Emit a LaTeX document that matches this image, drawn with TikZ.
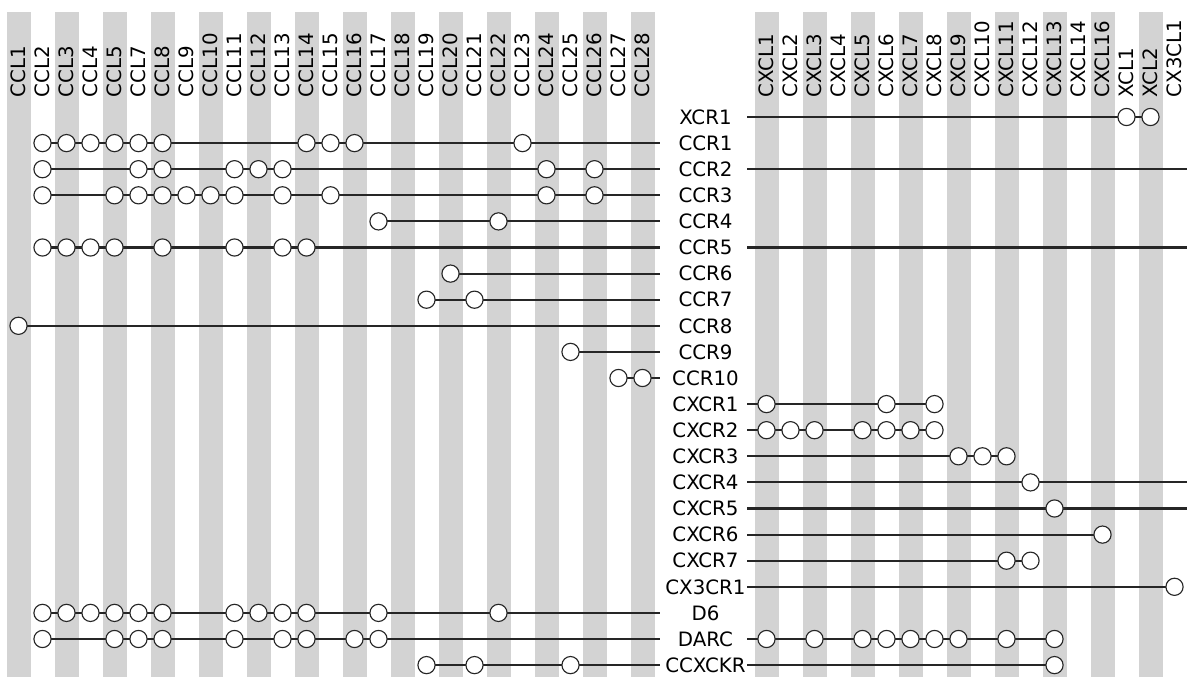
\documentclass[tikz,border=0pt]{standalone}
\usepackage{fontspec}
\setmainfont{DejaVu Sans}
\definecolor{stripe}{RGB}{211,211,211}
\definecolor{ink}{RGB}{38,38,38}
\pgfdeclarelayer{stripes}
\pgfdeclarelayer{wires}
\pgfsetlayers{stripes,wires,main}
\newcommand\ligL[2]{\foreach \i in {#2} \node[lig] (l#1-\i) at ({18.5+24*\i},{117+26.1*#1}) {};}
\newcommand\ligR[2]{\foreach \j in {#2} \node[lig] (r#1-\j) at ({766.5+24*\j},{117+26.1*#1}) {};}
\begin{document}
\begin{tikzpicture}[x=0.75pt,y=-0.75pt,
  font=\fontsize{14.85}{17}\selectfont,
  lig/.style={circle,draw=ink,fill=white,line width=0.85pt,minimum size=12.9pt,inner sep=0pt},
  wire/.style={draw=ink,line width=1.55pt},
  rlab/.style={inner sep=0pt,text=black},
  clab/.style={inner sep=0pt,anchor=west,rotate=90,text=black},
  band/.style={fill=stripe}]
\useasboundingbox (0,0) rectangle (1187,677);
% stripes
\begin{pgfonlayer}{stripes}
\foreach \i in {0,2,...,26} \fill[band] ({18.5+24*\i-12},12) rectangle ({18.5+24*\i+12},677);
\foreach \j in {0,2,...,16} \fill[band] ({766.5+24*\j-12},12) rectangle ({766.5+24*\j+12},677);
\end{pgfonlayer}
% column labels
\foreach \i/\t in {0/CCL1,1/CCL2,2/CCL3,3/CCL4,4/CCL5,5/CCL7,6/CCL8,7/CCL9,8/CCL10,9/CCL11,10/CCL12,11/CCL13,12/CCL14,13/CCL15,14/CCL16,15/CCL17,16/CCL18,17/CCL19,18/CCL20,19/CCL21,20/CCL22,21/CCL23,22/CCL24,23/CCL25,24/CCL26,25/CCL27,26/CCL28}
  \node[clab] (lc\i) at ({18.5+24*\i},97.5) {\t};
\foreach \j/\t in {0/CXCL1,1/CXCL2,2/CXCL3,3/CXCL4,4/CXCL5,5/CXCL6,6/CXCL7,7/CXCL8,8/CXCL9,9/CXCL10,10/CXCL11,11/CXCL12,12/CXCL13,13/CXCL14,14/CXCL16,15/XCL1,16/XCL2,17/CX3CL1}
  \node[clab] (rc\j) at ({766.5+24*\j},97.5) {\t};
% row labels and line end points
\foreach \k/\t in {0/XCR1,1/CCR1,2/CCR2,3/CCR3,4/CCR4,5/CCR5,6/CCR6,7/CCR7,8/CCR8,9/CCR9,10/CCR10,11/CXCR1,12/CXCR2,13/CXCR3,14/CXCR4,15/CXCR5,16/CXCR6,17/CXCR7,18/CX3CR1,19/D6,20/DARC,21/CCXCKR}{
  \node[rlab] (row\k) at (705.5,{117+26.1*\k}) {\t};
  \coordinate (le\k) at (660,{117+26.1*\k});
  \coordinate (rs\k) at (747,{117+26.1*\k});
  \coordinate (re\k) at (1187,{117+26.1*\k});
}
% circles
\ligR{0}{15,16}
\ligL{1}{1,2,3,4,5,6,12,13,14,21}
\ligL{2}{1,5,6,9,10,11,22,24}
\ligL{3}{1,4,5,6,7,8,9,11,13,22,24}
\ligL{4}{15,20}
\ligL{5}{1,2,3,4,6,9,11,12}
\ligL{6}{18}
\ligL{7}{17,19}
\ligL{8}{0}
\ligL{9}{23}
\ligL{10}{25,26}
\ligR{11}{0,5,7}
\ligR{12}{0,1,2,4,5,6,7}
\ligR{13}{8,9,10}
\ligR{14}{11}
\ligR{15}{12}
\ligR{16}{14}
\ligR{17}{10,11}
\ligR{18}{17}
\ligL{19}{1,2,3,4,5,6,9,10,11,12,15,20}
\ligL{20}{1,4,5,6,9,11,12,14,15}
\ligR{20}{0,2,4,5,6,7,8,10,12}
\ligL{21}{17,19,23}
\ligR{21}{12}
% connectors
\begin{pgfonlayer}{wires}
\draw[wire] (rs0) -- (r0-16.center);
\draw[wire] (l1-1.center) -- (le1);
\draw[wire] (l2-1.center) -- (le2);
\draw[wire] (rs2) -- (re2);
\draw[wire] (l3-1.center) -- (le3);
\draw[wire] (l4-15.center) -- (le4);
\draw[wire] (l5-1.center) -- (le5);
\draw[wire] (rs5) -- (re5);
\draw[wire] (l6-18.center) -- (le6);
\draw[wire] (l7-17.center) -- (le7);
\draw[wire] (l8-0.center) -- (le8);
\draw[wire] (l9-23.center) -- (le9);
\draw[wire] (l10-25.center) -- (le10);
\draw[wire] (rs11) -- (r11-7.center);
\draw[wire] (rs12) -- (r12-7.center);
\draw[wire] (rs13) -- (r13-10.center);
\draw[wire] (rs14) -- (re14);
\draw[wire] (rs15) -- (re15);
\draw[wire] (rs16) -- (r16-14.center);
\draw[wire] (rs17) -- (r17-11.center);
\draw[wire] (rs18) -- (r18-17.center);
\draw[wire] (l19-1.center) -- (le19);
\draw[wire] (l20-1.center) -- (le20);
\draw[wire] (rs20) -- (r20-12.center);
\draw[wire] (l21-17.center) -- (le21);
\draw[wire] (rs21) -- (r21-12.center);
\end{pgfonlayer}
\end{tikzpicture}
\end{document}
